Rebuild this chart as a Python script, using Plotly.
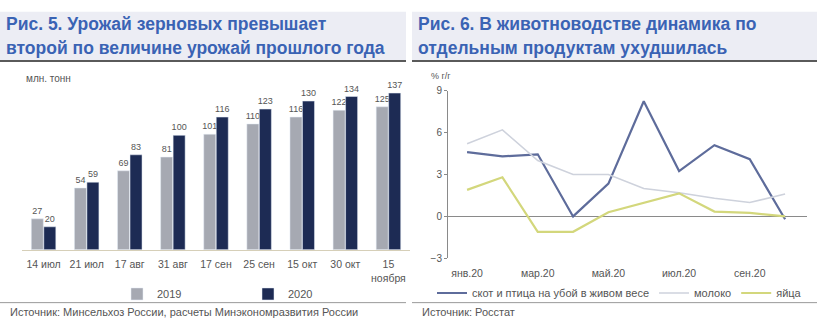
import plotly.graph_objects as go

# Left panel: grain harvest by date, mln tonnes
dates = ["14 июл", "21 июл", "17 авг", "31 авг", "17 сен", "25 сен", "15 окт", "30 окт", "15<br>ноября"]
harvest_2019 = [27, 54, 69, 81, 101, 110, 116, 122, 125]
harvest_2020 = [20, 59, 83, 100, 116, 123, 130, 134, 137]

# Right panel: livestock output, % y/y, monthly 2020
months = ["янв.20", "фев.20", "мар.20", "апр.20", "май.20", "июн.20", "июл.20", "авг.20", "сен.20", "окт.20"]
month_ticks = ["янв.20", "мар.20", "май.20", "июл.20", "сен.20"]
livestock = [4.6, 4.3, 4.45, 0.0, 2.35, 8.25, 3.25, 5.1, 4.1, -0.2]
milk = [5.2, 6.2, 4.0, 3.0, 3.0, 2.0, 1.7, 1.3, 1.0, 1.6]
eggs = [1.9, 2.8, -1.1, -1.1, 0.3, 1.0, 1.65, 0.35, 0.25, 0.0]

W, H = 817, 325
FONT = "Liberation Sans"
TITLE_BLUE = "#3A63B4"
GREY_BAR = "#A6A9B2"
NAVY_BAR = "#1D2B54"
TEXT_GREY = "#555555"


def px_x(p):
    return p / W


def px_y(p):
    return 1 - p / H


fig = go.Figure()

for name, values, colour in [("2019", harvest_2019, GREY_BAR), ("2020", harvest_2020, NAVY_BAR)]:
    fig.add_trace(go.Bar(
        x=dates, y=values, name=name, marker_color=colour,
        text=[str(v) for v in values], textposition="outside", constraintext="none",
        textfont=dict(size=9, color=TEXT_GREY), cliponaxis=False,
        xaxis="x", yaxis="y", legend="legend",
    ))

idx = list(range(len(months)))
fig.add_trace(go.Scatter(
    x=idx, y=livestock, mode="lines", name="скот и птица на убой в живом весе",
    line=dict(color="#5E6C9B", width=2.2), xaxis="x2", yaxis="y2", legend="legend2",
))
fig.add_trace(go.Scatter(
    x=idx, y=milk, mode="lines", name="молоко",
    line=dict(color="#CED2DC", width=1.6), xaxis="x2", yaxis="y2", legend="legend2",
))
fig.add_trace(go.Scatter(
    x=idx, y=eggs, mode="lines", name="яйца",
    line=dict(color="#D3D77C", width=2.2), xaxis="x2", yaxis="y2", legend="legend2",
))

shapes = []
annotations = []

# Title bands, rules and sources for both panels
for x0, x1, lines, src in [
    (0, 406, ["Рис. 5. Урожай зерновых превышает", "второй по величине урожай прошлого года"],
     "Источник: Минсельхоз России, расчеты Минэкономразвития России"),
    (412, 817, ["Рис. 6. В животноводстве динамика по", "отдельным продуктам ухудшилась"],
     "Источник: Росстат"),
]:
    shapes.append(dict(type="rect", xref="paper", yref="paper",
                       x0=px_x(x0), x1=px_x(x1), y0=px_y(56), y1=px_y(6),
                       fillcolor="#ECEDF4", line=dict(width=0), layer="below"))
    shapes.append(dict(type="line", xref="paper", yref="paper",
                       x0=px_x(x0), x1=px_x(x1), y0=px_y(57), y1=px_y(57),
                       line=dict(color="#5A5A5A", width=2)))
    shapes.append(dict(type="line", xref="paper", yref="paper",
                       x0=px_x(x0), x1=px_x(x1), y0=px_y(308), y1=px_y(308),
                       line=dict(color="#9A9A9A", width=1)))
    for line_text, ly in zip(lines, [19, 44]):
        annotations.append(dict(
            xref="paper", yref="paper", x=px_x(x0 + 4), y=px_y(ly), xanchor="left", yanchor="middle",
            text="<b>" + line_text + "</b>", align="left", showarrow=False,
            font=dict(family=FONT, size=17.5, color=TITLE_BLUE),
        ))
    annotations.append(dict(
        xref="paper", yref="paper", x=px_x(x0 + 8), y=px_y(318), xanchor="left", yanchor="middle",
        text=src, showarrow=False, font=dict(family=FONT, size=11, color=TEXT_GREY),
    ))

annotations.append(dict(xref="paper", yref="paper", x=px_x(24), y=px_y(75),
                        xanchor="left", yanchor="middle", text="млн. тонн", showarrow=False,
                        font=dict(family=FONT, size=10, color=TEXT_GREY)))
annotations.append(dict(xref="paper", yref="paper", x=px_x(429), y=px_y(73),
                        xanchor="left", yanchor="middle", text="% г/г", showarrow=False,
                        font=dict(family=FONT, size=9, color=TEXT_GREY)))

fig.update_layout(
    width=W, height=H,
    margin=dict(l=0, r=0, t=0, b=0),
    paper_bgcolor="white", plot_bgcolor="white",
    font=dict(family=FONT, size=10, color=TEXT_GREY),
    barmode="group", bargap=0.42, bargroupgap=0.04,
    shapes=shapes, annotations=annotations,
    xaxis=dict(domain=[px_x(22), px_x(410)], showgrid=False, showline=True,
               linecolor="#D6CFB8", linewidth=1, ticks="", tickfont=dict(size=10.5),
               tickangle=0, ticklabelstandoff=5, fixedrange=True),
    yaxis=dict(domain=[px_y(253), px_y(75)], range=[0, 150], visible=False),
    xaxis2=dict(domain=[px_x(448), px_x(807)], anchor="y2", range=[-0.54, 9.62],
                tickvals=[0, 2, 4, 6, 8], ticktext=month_ticks, showgrid=False,
                showline=False, zeroline=False, ticks="", tickfont=dict(size=10.5),
                ticklabelstandoff=7),
    yaxis2=dict(domain=[px_y(262), px_y(88)], anchor="x2", range=[-3, 9],
                tickvals=[-3, 0, 3, 6, 9], showgrid=False, showline=True,
                linecolor="#8A8A8A", linewidth=1, ticks="outside", ticklen=3,
                tickcolor="#8A8A8A", zeroline=True, zerolinecolor="#8A8A8A",
                zerolinewidth=1, tickfont=dict(size=10)),
    legend=dict(orientation="h", x=px_x(117), y=px_y(299), xanchor="left", yanchor="middle",
                entrywidth=86, entrywidthmode="pixels", font=dict(size=11),
                bgcolor="rgba(0,0,0,0)"),
    legend2=dict(orientation="h", x=px_x(432), y=px_y(298), xanchor="left", yanchor="middle",
                 itemwidth=30, font=dict(size=11), bgcolor="rgba(0,0,0,0)",
                 tracegroupgap=0),
)

fig.write_html("out.html")
